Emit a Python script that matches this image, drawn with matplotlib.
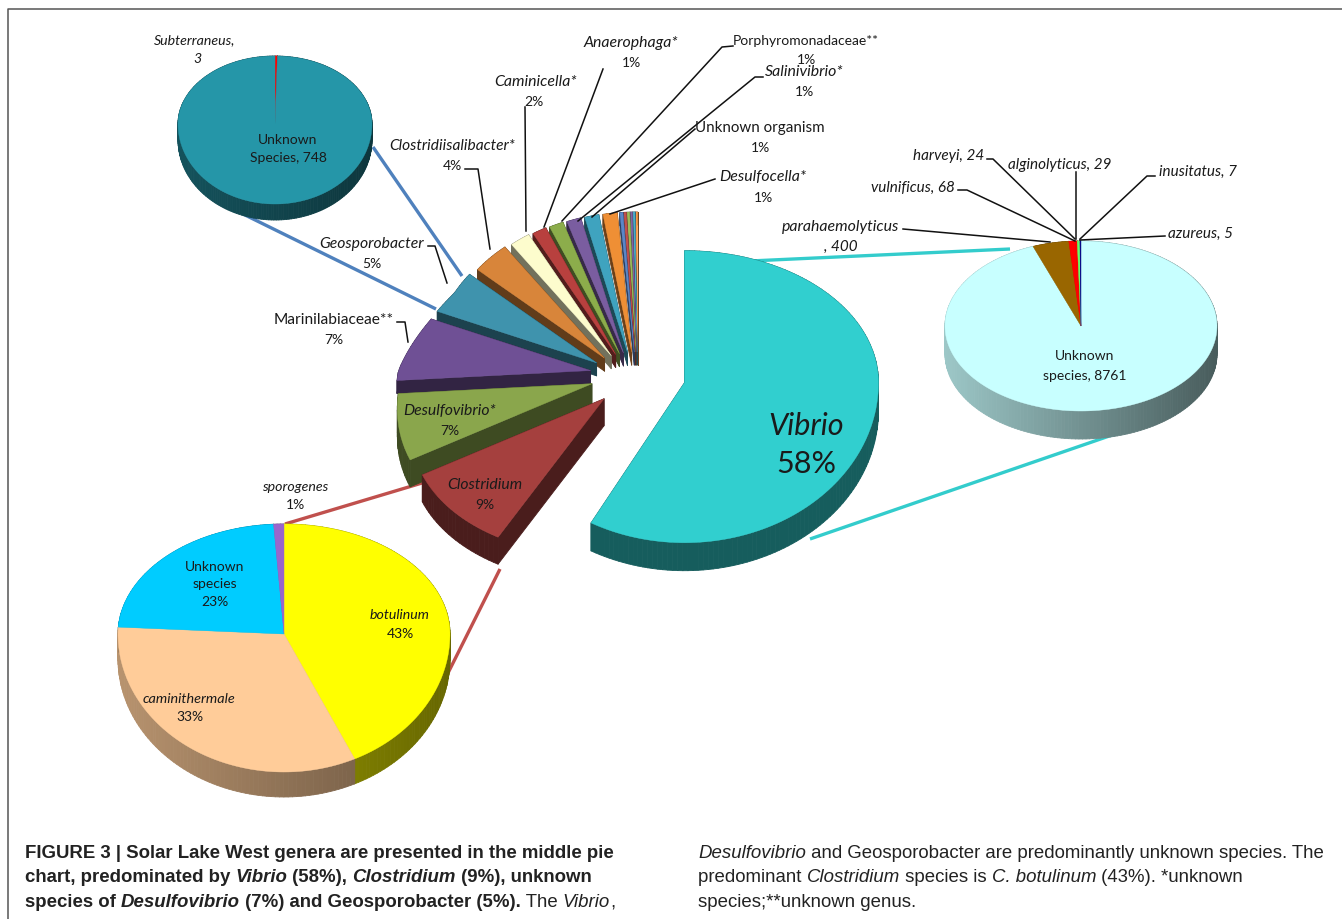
import numpy as np
import matplotlib
matplotlib.use('Agg')
import matplotlib.pyplot as plt
from matplotlib.collections import PolyCollection
from matplotlib.colors import to_rgb

# middle pie, clockwise from 12 o'clock
genus_names = ['Vibrio', 'Clostridium', 'Desulfovibrio', 'Marinilabiaceae', 'Geosporobacter',
               'Clostridiisalibacter', 'Caminicella', 'Anaerophaga', 'Porphyromonadaceae',
               'Salinivibrio', 'Unknown organism', 'Desulfocella',
               'o1', 'o2', 'o3', 'o4', 'o5', 'o6']
genus_values = [58, 9, 7, 7, 4.9, 3.7, 2, 1.4, 1.4, 1.4, 1.4, 1.4,
                0.3, 0.25, 0.25, 0.2, 0.2, 0.2]
genus_colors = ['#31cfcf', '#a5403e', '#8aa64c', '#6f5095', '#3f93ad', '#d8853a', '#fdfccd',
                '#b8403e', '#8cad4b', '#7a5da0', '#3fa3bf', '#ef8f35',
                '#5a86c8', '#c0504d', '#9bbb59', '#8064a2', '#4bacc6', '#f79646']

# Vibrio species
vibrio_values = [8761, 400, 68, 24, 29, 5, 7]
vibrio_colors = ['#c8ffff', '#996600', '#ff0000', '#ff0000', '#66ff66', '#3030c0', '#000080']

# Clostridium species
clost_values = [43, 33, 23, 1]
clost_colors = ['#ffff00', '#ffcc99', '#00ccff', '#9966cc']

# Geosporobacter species
geo_values = [3, 748]
geo_colors = ['#ff0000', '#2596a8']

plt.rcParams['font.family'] = ['Lato', 'DejaVu Sans']
fig = plt.figure(figsize=(13.42, 9.2), dpi=100)
ax = fig.add_axes([0, 0, 1, 1])
ax.set_xlim(0, 1342)
ax.set_ylim(920, 0)
ax.axis('off')


def shaded(color, f):
    return tuple(min(1, c * f) for c in to_rgb(color))


def wedge(cx, cy, rx, ry_top, ry_bot, a0, a1, widen=False):
    n = max(2, int((a1 - a0) / 1.5) + 2)
    t = np.radians(np.linspace(a0, a1, n))
    c = np.cos(t)
    ry = np.where(c > 0, ry_top, ry_bot)
    r = rx
    if widen:
        # the slices of the middle pie look narrower at the back, wider at the front
        r = rx - 28 * np.clip(c / 0.5, 0, 1) + 32 * np.clip(-c, 0, 1)
    x = cx + r * np.sin(t)
    y = cy - ry * c
    return np.column_stack([np.r_[cx, x], np.r_[cy, y]])


def draw_side(pts, color, depth, sl, sr, x0, x1, z):
    # extrude the outline downwards, one quad per outline segment
    quads, cols = [], []
    closed = np.vstack([pts, pts[0]])
    for p, q in zip(closed[:-1], closed[1:]):
        quads.append([p, q, q + [0, depth], p + [0, depth]])
        f = sl + (sr - sl) * (np.clip((p[0] + q[0]) / 2, x0, x1) - x0) / (x1 - x0)
        cols.append(shaded(color, f))
    ax.add_collection(PolyCollection(quads, facecolors=cols, edgecolors=cols, linewidths=0.6, zorder=z))


def pie3d(values, colors, cx, cy, rx, ry_top, ry_bot, depth, sl, sr, z):
    total = sum(values)
    a = 0
    shapes = []
    for v, c in zip(values, colors):
        a1 = a + 360 * v / total
        shapes.append((wedge(cx, cy, rx, ry_top, ry_bot, a, a1), c))
        a = a1
    for pts, c in sorted(shapes, key=lambda s: s[0][:, 1].max()):
        draw_side(pts, c, depth, sl, sr, cx - rx, cx + rx, z)
    for pts, c in shapes:
        ax.fill(pts[:, 0], pts[:, 1], color=c, lw=0.3, zorder=z + 1)


# exploded middle pie
cx, cy = 638, 375
total = sum(genus_values)
edges = np.r_[0, np.cumsum(genus_values)] * 360 / total
for i in range(len(genus_values) - 1, -1, -1):
    a0, a1 = edges[i], edges[i + 1]
    mid = np.radians((a0 + a1) / 2)
    ox = cx + 48 * np.sin(mid)
    oy = cy - (22 if np.cos(mid) > 0 else 35) * np.cos(mid)
    if i == 0:
        pts = wedge(ox, oy, 194, 132, 160, a0, a1)
        d = 28
    else:
        pts = wedge(ox, oy, 192, 140, 158, a0, a1, widen=True)
        d = 13 + 14 * min(1, max(0, -np.cos(mid)) / 0.27)
    z = 3 + (len(genus_values) - i) * 0.01
    draw_side(pts, genus_colors[i], d, 0.45, 0.45, 0, 1342, z)
    ax.fill(pts[:, 0], pts[:, 1], color=genus_colors[i], lw=0.3, zorder=z + 0.005)

pie3d(vibrio_values, vibrio_colors, 1081, 327, 136, 85, 85, 28, 0.78, 0.36, 4)
pie3d(clost_values, clost_colors, 284, 635, 166, 110, 138, 25, 0.72, 0.4, 4)
pie3d(geo_values, geo_colors, 275, 125, 97, 68, 80, 16, 0.55, 0.36, 4)

# lines from the middle pie out to the species pies
for xs, ys, c in [([373, 462], [148, 277], '#4f81bd'), ([243, 436], [215, 310], '#4f81bd'),
                  ([285, 422], [525, 484], '#c0504d'), ([445, 500], [680, 570], '#c0504d'),
                  ([750, 1010], [262, 250], '#33cccc'), ([810, 1118], [540, 434], '#33cccc')]:
    ax.plot(xs, ys, color=c, lw=2.4, zorder=2, solid_capstyle='butt')

# label leaders
leaders = [([733, 722, 562], [47, 48, 222]), ([603, 544], [70, 228]), ([763, 755, 578], [78, 78, 222]),
           ([695, 592], [130, 218]), ([715, 610], [180, 215]), ([525, 526], [108, 232]),
           ([465, 478, 490], [170, 170, 250]), ([428, 435, 447], [247, 247, 284]),
           ([397, 405, 408], [323, 323, 343]),
           ([903, 1050], [230, 243]), ([958, 967, 1075], [191, 191, 242]),
           ([987, 993, 1075], [160, 160, 240]), ([1076, 1076], [173, 240]),
           ([1155, 1147, 1080], [177, 177, 240]), ([1165, 1080], [237, 241])]
for xs, ys in leaders:
    ax.plot(xs, ys, color='#111111', lw=1.1, zorder=6)


def lab(x, y, s, italic=False, size=10.0, z=7):
    ax.text(x, y + 1, s, ha='center', va='center', fontsize=size, color='#1a1a1a',
            style='italic' if italic else 'normal', zorder=z)


labels = [(195, 39, 'Subterraneus,', True, 10.2), (197, 58, '3', True, 10.2),
          (288, 139, 'Unknown', False, 10), (288, 157, 'Species, 748', False, 10),
          (631, 42, 'Anaerophaga*', True, 11.4), (631, 62, '1%', False, 10),
          (806, 40, 'Porphyromonadaceae**', False, 10), (806, 59, '1%', False, 10),
          (536, 81, 'Caminicella*', True, 11.4), (534, 101, '2%', False, 10),
          (804, 71, 'Salinivibrio*', True, 11.4), (804, 91, '1%', False, 10),
          (760, 127, 'Unknown organism', False, 10.9), (760, 147, '1%', False, 10),
          (452, 145, 'Clostridiisalibacter*', True, 11.2), (452, 165, '4%', False, 10),
          (763, 176, 'Desulfocella*', True, 11.4), (763, 197, '1%', False, 10),
          (372, 243, 'Geosporobacter', True, 11.3), (372, 263, '5%', False, 10),
          (334, 319, 'Marinilabiaceae**', False, 11.2), (334, 339, '7%', False, 10),
          (450, 410, 'Desulfovibrio*', True, 11.3), (450, 430, '7%', False, 10),
          (485, 484, 'Clostridium', True, 11.3), (485, 504, '9%', False, 10),
          (295, 486, 'sporogenes', True, 10.2), (295, 504, '1%', False, 10),
          (215, 566, 'Unknown', False, 10), (215, 583, 'species', False, 10), (215, 601, '23%', False, 10),
          (400, 614, 'botulinum', True, 10.2), (400, 633, '43%', False, 10),
          (189, 698, 'caminithermale', True, 10.4), (190, 716, '33%', False, 10),
          (841, 226, 'parahaemolyticus', True, 11.4), (841, 246, ', 400', True, 11),
          (949, 155, 'harveyi, 24', True, 11), (1060, 164, 'alginolyticus, 29', True, 11),
          (913, 187, 'vulnificus, 68', True, 11), (1198, 171, 'inusitatus, 7', True, 11),
          (1200, 233, 'azureus, 5', True, 11),
          (1085, 355, 'Unknown', False, 10), (1085, 375, 'species, 8761', False, 10)]
for x, y, s, it, size in labels:
    lab(x, y, s, it, size)
lab(806, 425, 'Vibrio', True, 22)
lab(806, 463, '58%', False, 22)

# frame: only left and top
ax.plot([8, 8, 1342], [920, 10, 10], color='#555555', lw=1.1, zorder=1)

# caption
REG = dict(weight='normal', style='normal')
BOLD = dict(weight='bold', style='normal')
BI = dict(weight='bold', style='italic')
IT = dict(weight='normal', style='italic')
caption = [
    (25, 854, [('FIGURE 3 | Solar Lake West genera are presented in the middle pie', BOLD)]),
    (25, 878, [('chart, predominated by ', BOLD), ('Vibrio', BI), (' (58%), ', BOLD), ('Clostridium', BI),
               (' (9%), unknown', BOLD)]),
    (25, 903, [('species of ', BOLD), ('Desulfovibrio', BI), (' (7%) and Geosporobacter (5%).', BOLD),
               (' The ', REG), ('Vibrio', IT), (',', REG)]),
    (698, 854, [('Desulfovibrio', IT), (' and Geosporobacter are predominantly unknown species. The', REG)]),
    (698, 878, [('predominant ', REG), ('Clostridium', IT), (' species is ', REG), ('C. botulinum', IT),
                (' (43%). *unknown', REG)]),
    (698, 903, [('species;**unknown genus.', REG)]),
]
rend = fig.canvas.get_renderer()
for x, y, runs in caption:
    for s, st in runs:
        t = ax.text(x, y, s, family='Liberation Sans', fontsize=13.4, va='center', ha='left',
                    color='#222222', **st)
        x = ax.transData.inverted().transform(t.get_window_extent(rend))[1, 0]

fig.savefig('out.png', dpi=100)
